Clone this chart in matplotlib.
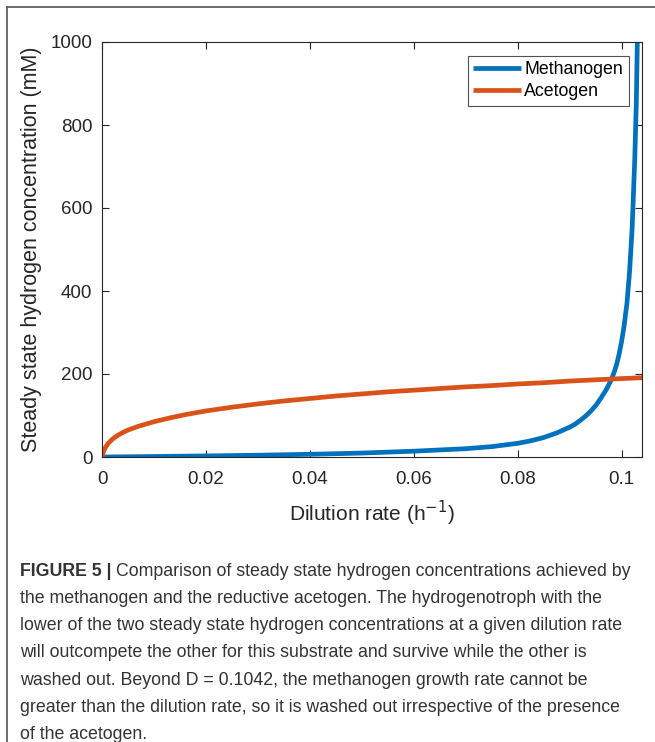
import matplotlib
matplotlib.use("Agg")
import matplotlib.pyplot as plt
from matplotlib.lines import Line2D

plt.rcParams['font.family'] = ['Liberation Sans', 'DejaVu Sans']

# Data
dil_meth = [0, 0.01, 0.02, 0.03, 0.04, 0.05, 0.06, 0.065, 0.07, 0.0725, 0.075, 0.0775,
            0.08, 0.0825, 0.085, 0.0875, 0.09, 0.091, 0.092, 0.093, 0.094, 0.095,
            0.096, 0.097, 0.098, 0.0985, 0.099, 0.0995, 0.1, 0.1005, 0.101, 0.1015,
            0.102, 0.1025, 0.1028, 0.103, 0.1032]
h2_meth = [0, 1.2, 2.6, 4.3, 6.5, 9.5, 14, 17, 20, 22.5, 25, 29,
           33, 39, 47, 58, 72, 79, 88, 98, 110, 124,
           142, 162, 186, 203, 222, 248, 280, 320, 370, 445,
           550, 715, 850, 1000, 1200]

dil_acet = [0, 0.0003, 0.0007, 0.0012, 0.002, 0.003, 0.004, 0.005, 0.007, 0.01,
            0.013, 0.016, 0.02, 0.025, 0.03, 0.035, 0.04, 0.045, 0.05, 0.055,
            0.06, 0.065, 0.07, 0.075, 0.08, 0.085, 0.09, 0.095, 0.1, 0.1039]
h2_acet = [0, 14, 24, 33, 43, 52, 59, 65, 74, 85,
           94, 102, 111, 120, 128, 135, 141, 147, 152, 157,
           161, 165, 169, 172, 176, 179, 183, 186, 189, 191]

series_names = ["Methanogen", "Acetogen"]
series_colors = ["#0072BD", "#D95319"]
x_ticks = [0, 0.02, 0.04, 0.06, 0.08, 0.1]
x_ticklabels = ["0", "0.02", "0.04", "0.06", "0.08", "0.1"]
y_ticks = [0, 200, 400, 600, 800, 1000]

caption_bold = "FIGURE 5 | "
caption_lines = [
    "Comparison of steady state hydrogen concentrations achieved by",
    "the methanogen and the reductive acetogen. The hydrogenotroph with the",
    "lower of the two steady state hydrogen concentrations at a given dilution rate",
    "will outcompete the other for this substrate and survive while the other is",
    "washed out. Beyond D = 0.1042, the methanogen growth rate cannot be",
    "greater than the dilution rate, so it is washed out irrespective of the presence",
    "of the acetogen.",
]

W, H = 655, 742
fig = plt.figure(figsize=(W / 100, H / 100), dpi=100)
fig.patch.set_facecolor("white")

# outer frame (top and left lines)
fig.add_artist(Line2D([7 / W, 1.0], [1 - 7 / H, 1 - 7 / H], color="#555555", lw=1.2))
fig.add_artist(Line2D([7 / W, 7 / W], [1 - 7 / H, 0], color="#555555", lw=1.2))

ax = fig.add_axes([102 / W, 1 - 457 / H, (642 - 102) / W, (457 - 42) / H])
axc = "#262626"
l1, = ax.plot(dil_meth, h2_meth, color=series_colors[0], lw=3.4, solid_capstyle="butt")
l2, = ax.plot(dil_acet, h2_acet, color=series_colors[1], lw=3.4, solid_capstyle="butt")
ax.set_xlim(0, 0.1039)
ax.set_ylim(0, 1000)
ax.set_xticks(x_ticks)
ax.set_xticklabels(x_ticklabels)
ax.set_yticks(y_ticks)
for s in ax.spines.values():
    s.set_color(axc)
    s.set_linewidth(0.8)
ax.tick_params(axis="both", direction="in", length=5, width=0.8, top=True, right=True,
               colors=axc, labelsize=13.5)
ax.tick_params(axis="x", pad=10)
ax.tick_params(axis="y", pad=7)
ax.set_xlabel("Dilution rate (h$^{-1}$)", fontsize=15, color=axc, labelpad=8)
ax.set_ylabel("Steady state hydrogen concentration (mM)", fontsize=15.5, color=axc, labelpad=6)

leg = ax.legend([l1, l2], series_names, loc="upper right", fontsize=12.8,
                bbox_to_anchor=(0.975, 0.967), frameon=True, fancybox=False,
                edgecolor=axc, handlelength=2.7, handletextpad=0.2,
                borderpad=0.3, labelspacing=0.3, borderaxespad=0)
leg.get_frame().set_linewidth(0.8)

# caption
capc = "#333333"
fs = 12.8
y0 = 1 - 571 / H
dy = 27.3 / H
tb = fig.text(20 / W, y0, caption_bold, fontsize=fs, fontweight="bold",
              color=capc, va="center", ha="left")
ax.annotate(caption_lines[0], xy=(1, 0.5), xycoords=tb, va="center", ha="left",
            fontsize=fs, color=capc, annotation_clip=False)
for i, line in enumerate(caption_lines[1:], start=1):
    fig.text(20 / W, y0 - i * dy, line, fontsize=fs, color=capc, va="center", ha="left")

fig.savefig("out.png", dpi=100, facecolor="white")
